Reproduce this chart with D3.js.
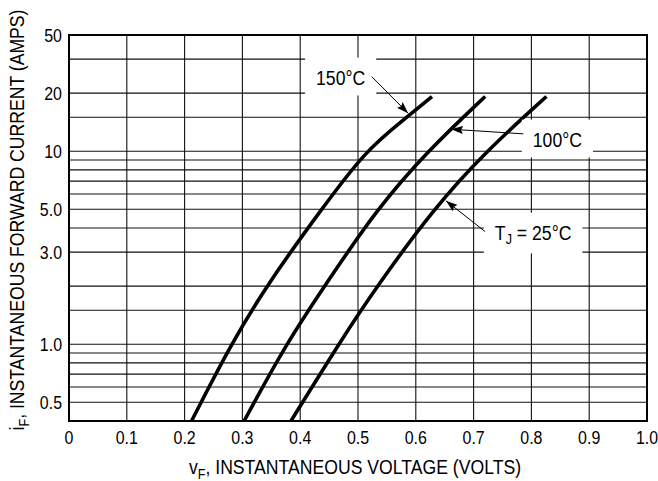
<!DOCTYPE html>
<html>
<head>
<meta charset="utf-8">
<script src="https://cdn.jsdelivr.net/npm/d3@7"></script>
<style>
  body { margin: 0; background: #fff; }
  text { font-family: 'Liberation Sans', Arial, sans-serif; fill: #000; }
</style>
</head>
<body>
<div class="svg-container"></div>
<script>
// forward voltage vs forward current
const vf25 = [0.384, 0.469, 0.533, 0.63, 0.7215, 0.826];
const if25 = [0.40, 1.03, 2.0, 5.0, 10, 19.2];

const vf100 = [0.303, 0.375, 0.449, 0.5325, 0.62, 0.72];
const if100 = [0.40, 1.0, 2.15, 5.0, 10, 19.2];

const vf150 = [0.212, 0.28, 0.348, 0.437, 0.512, 0.58, 0.628];
const if150 = [0.40, 1.0, 2.15, 5.0, 10, 14.6, 19.2];

const xTicks = [0, 0.1, 0.2, 0.3, 0.4, 0.5, 0.6, 0.7, 0.8, 0.9, 1.0];
const xTickLabels = ['0', '0.1', '0.2', '0.3', '0.4', '0.5', '0.6', '0.7', '0.8', '0.9', '1.0'];

const yGrid = [0.5, 0.6, 0.7, 0.8, 0.9, 1, 1.5, 2, 3, 4, 5, 6, 7, 8, 9, 10, 15, 20, 30];
const yTicks = [0.5, 1, 3, 5, 10, 20, 50];
const yTickLabels = ['0.5', '1.0', '3.0', '5.0', '10', '20', '50'];

// label text anchor (v, i), arrow tail and tip (v, i)
const labelNames = ['150°C', '100°C', 'TJ'];
const labelAt = [[0.470, 22.0], [0.845, 10.5], [0.803, 3.46]];
const arrowFrom = [[0.524, 24.3], [0.786, 12.3], [0.72, 3.83]];
const arrowTo = [[0.587, 15.7], [0.661, 13.0], [0.652, 5.54]];

const W = 658;
const H = 481;
const margin = { top: 35, right: 11, bottom: 60, left: 69 };
const width = W - margin.left - margin.right;
const height = H - margin.top - margin.bottom;
const squeeze = 0.84; // the datasheet font is a condensed sans

const x = d3.scaleLinear().domain([0, 1]).range([0, width]);
// log scale; the printed chart squeezes the last step from 30 up to 50
const y = d3.scaleLog()
  .domain([0.4, 30, 50])
  .range([height, height * (1 - Math.log10(30 / 0.4) / 2), 0]);

const svg = d3.select('.svg-container')
  .append('svg')
  .attr('width', W)
  .attr('height', H);

svg.append('defs').append('marker')
  .attr('id', 'tip')
  .attr('viewBox', '0 0 12 8')
  .attr('refX', 12)
  .attr('refY', 4)
  .attr('markerWidth', 12)
  .attr('markerHeight', 8)
  .attr('markerUnits', 'userSpaceOnUse')
  .attr('orient', 'auto')
  .append('path')
  .attr('d', 'M0,0 L12,4 L0,8 L2,4 Z')
  .attr('fill', '#000');

const g = svg.append('g')
  .attr('transform', `translate(${margin.left},${margin.top})`);

// condensed text helper
function label(parent, px, py, size, anchor, rotate) {
  return parent.append('text')
    .attr('transform', `translate(${px},${py})` + (rotate ? ` rotate(${rotate})` : '') + ` scale(${squeeze},1)`)
    .attr('text-anchor', anchor)
    .attr('font-size', size);
}

// grid
g.append('g')
  .selectAll('line')
  .data(yGrid)
  .enter()
  .append('line')
  .attr('x1', 0)
  .attr('x2', width)
  .attr('y1', (d) => y(d))
  .attr('y2', (d) => y(d))
  .attr('stroke', '#111')
  .attr('stroke-width', 1.1);

g.append('g')
  .selectAll('line')
  .data(xTicks.slice(1, -1))
  .enter()
  .append('line')
  .attr('x1', (d) => x(d))
  .attr('x2', (d) => x(d))
  .attr('y1', 0)
  .attr('y2', height)
  .attr('stroke', '#111')
  .attr('stroke-width', 1.1);

// frame
g.append('rect')
  .attr('width', width)
  .attr('height', height)
  .attr('fill', 'none')
  .attr('stroke', '#000')
  .attr('stroke-width', 2);

// tick labels
xTicks.forEach((d, k) => {
  label(g, x(d), height + 23, 19, 'middle').text(xTickLabels[k]);
});
yTicks.forEach((d, k) => {
  label(g, -7, y(d) + 7, 19, 'end').text(yTickLabels[k]);
});

// axis titles
const xTitle = label(g, width / 2 - 3, height + 53, 21, 'middle');
xTitle.append('tspan').text('v');
xTitle.append('tspan').attr('font-size', 15).attr('dy', 5).text('F');
xTitle.append('tspan').attr('dy', -5).text(', INSTANTANEOUS VOLTAGE (VOLTS)');

const yTitle = label(svg, 24, 220, 21, 'middle', -90);
yTitle.append('tspan').text('i');
yTitle.append('tspan').attr('font-size', 15).attr('dy', 5).text('F');
yTitle.append('tspan').attr('dy', -5).text(', INSTANTANEOUS FORWARD CURRENT (AMPS)');

// curves
const curves = [
  { v: vf25, i: if25 },
  { v: vf100, i: if100 },
  { v: vf150, i: if150 }
];

const line = d3.line()
  .x((d) => x(d[0]))
  .y((d) => y(d[1]))
  .curve(d3.curveBasis);

g.append('g')
  .selectAll('path')
  .data(curves)
  .enter()
  .append('path')
  .attr('d', (c) => line(c.v.map((v, k) => [v, c.i[k]])))
  .attr('fill', 'none')
  .attr('stroke', '#000')
  .attr('stroke-width', 3.6);

// labels with white boxes and arrows
labelNames.forEach((name, k) => {
  const lg = g.append('g')
    .attr('transform', `translate(${x(labelAt[k][0])},${y(labelAt[k][1])}) scale(${squeeze},1)`);
  const box = lg.append('rect').attr('fill', '#fff');
  const t = lg.append('text')
    .attr('text-anchor', 'middle')
    .attr('font-size', 21);
  if (name === 'TJ') {
    t.append('tspan').text('T');
    t.append('tspan').attr('font-size', 15).attr('dy', 4).text('J');
    t.append('tspan').attr('dy', -4).text(' = 25°C');
  } else {
    t.text(name);
  }
  const bb = t.node().getBBox();
  const padX = 11 / squeeze;
  box.attr('x', bb.x - padX)
    .attr('y', bb.y - 8)
    .attr('width', bb.width + 2 * padX)
    .attr('height', bb.height + 14);

  g.append('line')
    .attr('x1', x(arrowFrom[k][0]))
    .attr('y1', y(arrowFrom[k][1]))
    .attr('x2', x(arrowTo[k][0]))
    .attr('y2', y(arrowTo[k][1]))
    .attr('stroke', '#000')
    .attr('stroke-width', 1)
    .attr('marker-end', 'url(#tip)');
});
</script>
</body>
</html>
